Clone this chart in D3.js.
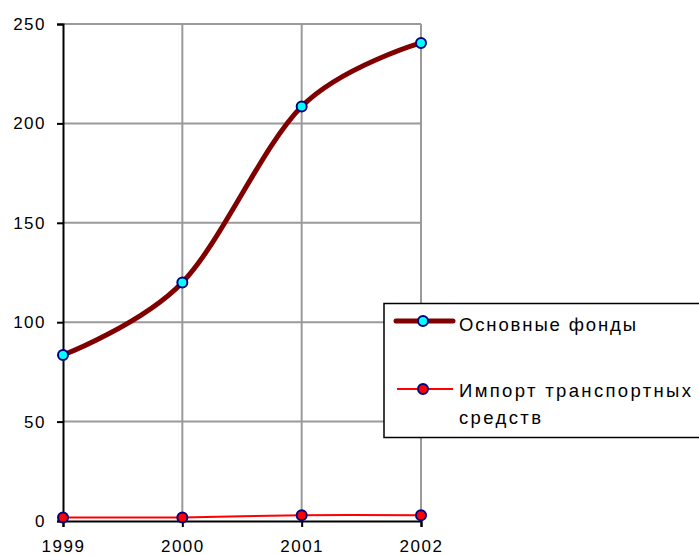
<!DOCTYPE html>
<html><head><meta charset="utf-8">
<script src="https://cdn.jsdelivr.net/npm/d3@7"></script>
<style>body{margin:0;background:#fff}svg{display:block}svg text{font-family:"Liberation Sans",Arial,sans-serif}</style>
</head><body><svg id="c" width="699" height="555"></svg>
<script>
const years = ["1999","2000","2001","2002"];
const fixedAssets = [83.5, 120, 208.5, 240.5];
const transportImport = [1.8, 1.8, 2.9, 2.9];
const yTicks = [0, 50, 100, 150, 200, 250];
const seriesNames = ["Основные фонды", "Импорт транспортных", "средств"];

const svg = d3.select("#c");
const x = d3.scalePoint().domain(years).range([63, 421]);
const y = d3.scaleLinear().domain([0, 250]).range([521, 24]);

// grid
svg.append("g").selectAll("line").data(yTicks.filter(d=>d>0)).join("line")
  .attr("x1", x("1999")).attr("x2", x("2002"))
  .attr("y1", d=>y(d)).attr("y2", d=>y(d))
  .attr("stroke", "#9a9a9a").attr("stroke-width", 2);
svg.append("g").selectAll("line").data(years.slice(1)).join("line")
  .attr("x1", d=>x(d)).attr("x2", d=>x(d))
  .attr("y1", y(0)).attr("y2", y(250))
  .attr("stroke", "#9a9a9a").attr("stroke-width", 2);

// axes
const yAxis = svg.append("g").attr("transform", `translate(${x("1999")},0)`)
  .call(d3.axisLeft(y).tickValues(yTicks).tickSize(6).tickPadding(11));
const xAxis = svg.append("g").attr("transform", `translate(0,${y(0)})`)
  .call(d3.axisBottom(x).tickSize(6).tickPadding(0));
[yAxis, xAxis].forEach(a => {
  a.attr("font-family", null).attr("font-size", null);
  a.select(".domain").attr("stroke", "#000").attr("stroke-width", 2);
  a.selectAll(".tick line").attr("stroke", "#000").attr("stroke-width", 2);
  a.selectAll("text").attr("font-size", 17).attr("fill", "#000").style("letter-spacing", "1.5px");
});
xAxis.selectAll("text").attr("y", 31).attr("dy", null);

const line = d3.line().x((d,i)=>x(years[i])).y(d=>y(d)).curve(d3.curveCatmullRom.alpha(0));

svg.append("path").attr("d", line(transportImport)).attr("fill","none")
  .attr("stroke","#ff0000").attr("stroke-width",2);
svg.append("path").attr("d", line(fixedAssets)).attr("fill","none")
  .attr("stroke","#800000").attr("stroke-width",5).attr("stroke-linejoin","round");

svg.append("g").selectAll("circle").data(transportImport).join("circle")
  .attr("cx",(d,i)=>x(years[i])).attr("cy",d=>y(d)).attr("r",5)
  .attr("fill","#ff0000").attr("stroke","#000080").attr("stroke-width",2);
svg.append("g").selectAll("circle").data(fixedAssets).join("circle")
  .attr("cx",(d,i)=>x(years[i])).attr("cy",d=>y(d)).attr("r",5)
  .attr("fill","#00ffff").attr("stroke","#000080").attr("stroke-width",2);

// legend
const lg = svg.append("g");
lg.append("rect").attr("x",384).attr("y",303.5).attr("width",340).attr("height",134)
  .attr("fill","#fff").attr("stroke","#000").attr("stroke-width",1.5);
lg.append("line").attr("x1",396).attr("x2",453).attr("y1",321).attr("y2",321)
  .attr("stroke","#800000").attr("stroke-width",5).attr("stroke-linecap","round");
lg.append("circle").attr("cx",423).attr("cy",321).attr("r",5)
  .attr("fill","#00ffff").attr("stroke","#000080").attr("stroke-width",2);
lg.append("line").attr("x1",397).attr("x2",453).attr("y1",389).attr("y2",389)
  .attr("stroke","#ff0000").attr("stroke-width",2);
lg.append("circle").attr("cx",423).attr("cy",389).attr("r",5)
  .attr("fill","#ff0000").attr("stroke","#000080").attr("stroke-width",2);
const lt = [[seriesNames[0],331,177],[seriesNames[1],397,232],[seriesNames[2],424,82]];
lg.selectAll("text").data(lt).join("text")
  .attr("x",459).attr("y",d=>d[1]).text(d=>d[0])
  .attr("font-size",18.5).attr("fill","#000")
  .attr("textLength",d=>d[2]).attr("lengthAdjust","spacing");
</script></body></html>
